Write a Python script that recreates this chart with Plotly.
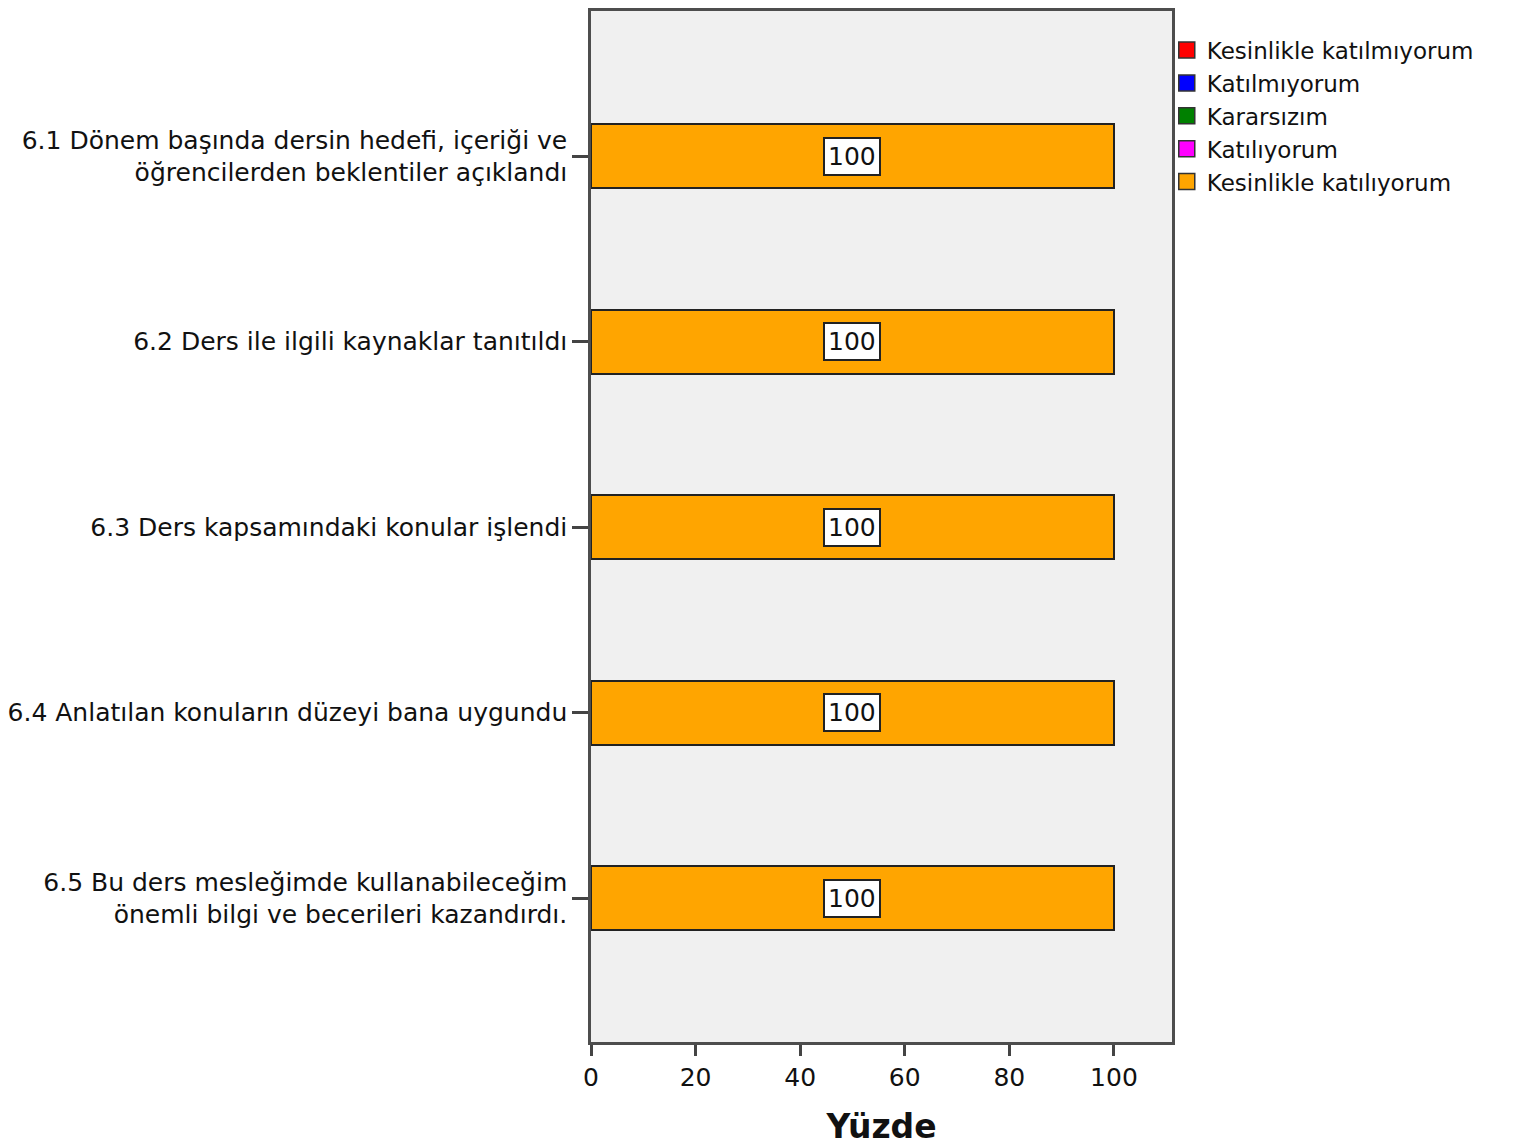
import plotly.graph_objects as go

categories = [
    "6.1 Dönem başında dersin hedefi, içeriği ve<br>öğrencilerden beklentiler açıklandı",
    "6.2 Ders ile ilgili kaynaklar tanıtıldı",
    "6.3 Ders kapsamındaki konular işlendi",
    "6.4 Anlatılan konuların düzeyi bana uygundu",
    "6.5 Bu ders mesleğimde kullanabileceğim<br>önemli bilgi ve becerileri kazandırdı.",
]
series_names = [
    "Kesinlikle katılmıyorum",
    "Katılmıyorum",
    "Kararsızım",
    "Katılıyorum",
    "Kesinlikle katılıyorum",
]
kesinlikle_katilmiyorum = [0, 0, 0, 0, 0]
katilmiyorum = [0, 0, 0, 0, 0]
kararsizim = [0, 0, 0, 0, 0]
katiliyorum = [0, 0, 0, 0, 0]
kesinlikle_katiliyorum = [100, 100, 100, 100, 100]
series_values = [kesinlikle_katilmiyorum, katilmiyorum, kararsizim, katiliyorum, kesinlikle_katiliyorum]
colors = ["#ff0000", "#0000ff", "#008000", "#ff00ff", "#ffa500"]
x_ticks = [0, 20, 40, 60, 80, 100]

FONT = "DejaVu Sans"
fig = go.Figure()
for name, vals, col in zip(series_names, series_values, colors):
    fig.add_trace(go.Bar(
        y=categories, x=vals, name=name, orientation="h",
        marker=dict(color=col, line=dict(color="#222222", width=2)),
        width=0.343, legendgroup=name, showlegend=False,
    ))
# legend entries (square swatches)
for name, col in zip(series_names, colors):
    fig.add_trace(go.Scatter(
        x=[None], y=[None], mode="markers", name=name, legendgroup=name,
        marker=dict(symbol="square", size=22, color=col, line=dict(color="#333333", width=1.5)),
    ))

# value labels
for i, cat in enumerate(categories):
    cum = 0
    for vals in series_values:
        v = vals[i]
        if v > 0:
            fig.add_annotation(
                x=cum + v / 2, y=cat, text=str(v), showarrow=False,
                font=dict(family=FONT, size=25, color="#111111"),
                bgcolor="white", bordercolor="#222222", borderwidth=2, borderpad=3,
            )
        cum += v

fig.update_layout(
    width=1508, height=1138,
    margin=dict(l=583, r=344, t=0, b=104),
    barmode="stack",
    paper_bgcolor="white",
    plot_bgcolor="#f0f0f0",
    font=dict(family=FONT, size=25, color="#111111"),
    showlegend=True,
    legend=dict(
        x=0.991, xanchor="left", y=0.983, yanchor="top",
        traceorder="normal", font=dict(family=FONT, size=23, color="#111111"),
        bgcolor="rgba(0,0,0,0)", itemwidth=30, tracegroupgap=0,
    ),
    xaxis=dict(
        range=[0, 111.1], tickvals=x_ticks, ticks="outside", ticklen=11, tickwidth=2.5,
        tickcolor="#444444", showgrid=False, zeroline=False,
        showline=True, linecolor="#4d4d4d", linewidth=2.5, mirror=True,
        tickfont=dict(family=FONT, size=25, color="#111111"),
        title=dict(text="<b>Yüzde</b>", font=dict(family=FONT, size=33, color="#111111"), standoff=30),
    ),
    yaxis=dict(
        type="category", categoryorder="array", categoryarray=categories,
        range=[4.775, -0.783], ticks="outside", ticklen=16, tickwidth=2.5, tickcolor="#444444",
        showgrid=False, zeroline=False,
        showline=True, linecolor="#4d4d4d", linewidth=2.5, mirror=True,
        tickfont=dict(family=FONT, size=25, color="#111111"),
    ),
)

fig.write_html("out.html")
